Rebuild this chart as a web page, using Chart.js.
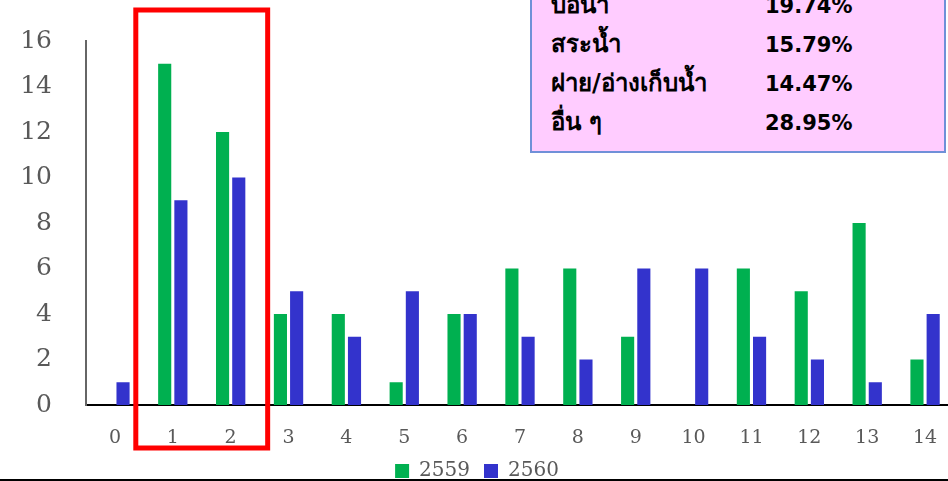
<!DOCTYPE html>
<html>
<head>
<meta charset="utf-8">
<script src="https://cdn.jsdelivr.net/npm/chart.js@4"></script>
<style>
  html, body { margin: 0; padding: 0; background: #fff; }
  #wrap { position: relative; width: 948px; height: 481px; overflow: hidden; }
  #box {
    position: absolute; left: 530px; top: -32px; width: 416px; height: 185px;
    background: #ffccff; border: 2px solid #7090d8; box-sizing: border-box;
    font-family: Tahoma, "DejaVu Sans", "Noto Sans", sans-serif; font-weight: bold;
    color: #000;
  }
  #box .row { position: absolute; left: 19px; font-size: 24px; line-height: 30px; }
  #box .val { position: absolute; left: 233px; font-size: 21px; line-height: 30px; }
</style>
</head>
<body>
<div id="wrap">
  <canvas id="myChart" width="954" height="481"></canvas>
  <div id="box"></div>
</div>
<script>
const categories = ['0', '1', '2', '3', '4', '5', '6', '7', '8', '9', '10', '11', '12', '13', '14'];
const values2559 = [0, 15, 12, 4, 4, 1, 4, 6, 6, 3, 0, 6, 5, 8, 2];
const values2560 = [1, 9, 10, 5, 3, 5, 4, 3, 2, 6, 6, 3, 2, 1, 4];
const yTicks = [0, 2, 4, 6, 8, 10, 12, 14, 16];

// กล่องสัดส่วนแหล่งน้ำ
const boxLabels = ['บ่อน้ำ', 'สระน้ำ', 'ฝาย/อ่างเก็บน้ำ', 'อื่น ๆ'];
const boxValues = ['19.74%', '15.79%', '14.47%', '28.95%'];

const box = document.getElementById('box');
boxLabels.forEach((lab, i) => {
    const top = 20 + i * 39;
    box.insertAdjacentHTML('beforeend',
        '<div class="row" style="top:' + top + 'px">' + lab + '</div>' +
        '<div class="val" style="top:' + (top + 1) + 'px">' + boxValues[i] + '</div>');
});

// กรอบสีแดงรอบหมวด 1-2 และเส้นล่าง
const extras = {
    id: 'extras',
    afterDraw(chart) {
        const c = chart.ctx;
        const x = chart.scales.x;
        const left = x.getPixelForValue(1) - 37;
        const right = x.getPixelForValue(2) + 37;
        c.save();
        c.strokeStyle = '#ff0000';
        c.lineWidth = 5;
        c.strokeRect(left, 10, right - left, 438);
        c.strokeStyle = '#000';
        c.lineWidth = 2;
        c.beginPath();
        c.moveTo(0, 480);
        c.lineTo(954, 480);
        c.stroke();
        c.restore();
    }
};

const data = {
    labels: categories,
    datasets: [{
        label: '2559',
        data: values2559,
        backgroundColor: '#00b050',
        categoryPercentage: 0.56,
        barPercentage: 0.81
    }, {
        label: '2560',
        data: values2560,
        backgroundColor: '#3333cc',
        categoryPercentage: 0.56,
        barPercentage: 0.81
    }]
};

const options = {
    responsive: false,
    animation: false,
    layout: { padding: { top: 15, right: 0, left: 0, bottom: -10 } },
    plugins: {
        tooltip: { enabled: false },
        legend: {
            position: 'bottom',
            labels: {
                color: '#595959',
                font: { family: 'DejaVu Serif', size: 20 },
                boxWidth: 14,
                boxHeight: 14,
                padding: 14
            }
        }
    },
    scales: {
        x: {
            grid: { display: false },
            border: { color: '#000', width: 2 },
            afterFit: s => { s.height = 42; },
            ticks: {
                color: '#595959',
                font: { family: 'DejaVu Serif', size: 19 },
                padding: 14,
                maxRotation: 0
            }
        },
        y: {
            min: 0,
            max: 16,
            afterBuildTicks: s => { s.ticks = yTicks.map(v => ({ value: v })); },
            afterFit: s => { s.width = 86; },
            grid: { display: false },
            border: { color: '#666', width: 2 },
            ticks: {
                color: '#595959',
                font: { family: 'DejaVu Serif', size: 25 },
                padding: 26
            }
        }
    }
};

const ctx = document.getElementById('myChart').getContext('2d');
const myChart = new Chart(ctx, {
    type: 'bar',
    data: data,
    options: options,
    plugins: [extras]
});
</script>
</body>
</html>
